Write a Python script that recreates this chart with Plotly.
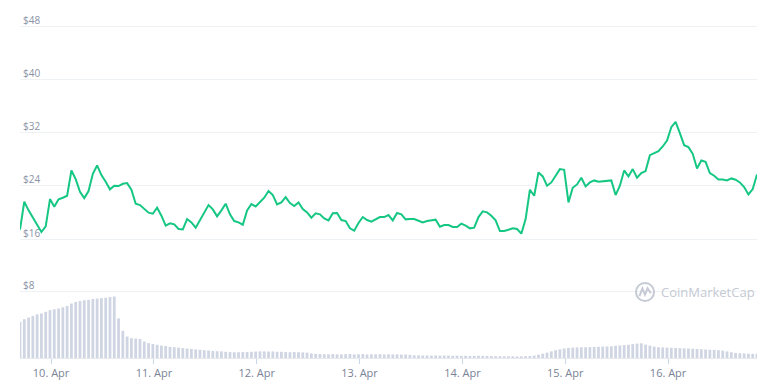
import pandas as pd
import plotly.graph_objects as go

# ---- data (hourly) ----
start_time = "2021-04-09 16:45"
price = [
    17.4, 21.6, 20.3, 19.2, 18.3, 17.05, 17.9, 22.0, 20.85, 21.96,
    22.2, 22.5, 26.3, 25.0, 23.1, 22.15, 23.2, 25.8, 27.05, 25.6,
    24.6, 23.46, 24.0, 23.96, 24.3, 24.4, 23.4, 21.3, 21.1, 20.5,
    19.96, 19.8, 20.7, 19.5, 18.0, 18.36, 18.2, 17.5, 17.45, 19.0,
    18.5, 17.7, 18.85, 20.0, 21.1, 20.45, 19.4, 20.3, 21.3, 19.7,
    18.7, 18.5, 18.15, 20.3, 21.25, 20.9, 21.5, 22.2, 23.2, 22.6,
    21.2, 21.5, 22.3, 21.4, 20.96, 21.5, 20.5, 20.0, 19.2, 19.86,
    19.7, 19.1, 18.8, 19.86, 19.9, 18.85, 18.7, 17.6, 17.25, 18.4,
    19.3, 18.85, 18.6, 18.9, 19.3, 19.3, 19.6, 18.8, 19.9, 19.7,
    18.95, 19.0, 19.0, 18.75, 18.5, 18.7, 18.8, 18.9, 17.85, 18.1,
    18.1, 17.8, 17.8, 18.3, 18.0, 17.6, 17.7, 19.3, 20.15, 20.0,
    19.5, 18.8, 17.2, 17.2, 17.4, 17.6, 17.5, 16.8, 19.0, 23.4,
    22.5, 26.0, 25.4, 24.0, 24.5, 25.5, 26.5, 26.4, 21.5, 23.7,
    24.2, 25.2, 23.9, 24.5, 24.8, 24.6, 24.7, 24.8, 24.8, 22.6,
    24.0, 26.3, 25.4, 26.5, 25.2, 25.9, 26.2, 28.6, 28.9, 29.2,
    29.9, 30.8, 32.8, 33.6, 31.9, 30.1, 29.8, 28.8, 26.6, 27.8,
    27.6, 25.9, 25.5, 24.95, 24.95, 24.8, 25.1, 24.9, 24.5, 23.8,
    22.7, 23.5, 25.7,
]
volume = [
    4.4, 4.7, 4.9, 5.1, 5.3, 5.4, 5.6, 5.8, 5.9, 6.0,
    6.15, 6.3, 6.6, 6.8, 6.9, 7.0, 7.05, 7.15, 7.2, 7.25,
    7.3, 7.4, 7.45, 4.8, 3.3, 2.6, 2.4, 2.35, 2.3, 2.0,
    1.8, 1.7, 1.6, 1.5, 1.45, 1.35, 1.3, 1.25, 1.2, 1.15,
    1.1, 1.05, 1.0, 0.95, 0.9, 0.85, 0.82, 0.8, 0.75, 0.72,
    0.7, 0.7, 0.72, 0.72, 0.75, 0.78, 0.8, 0.8, 0.78, 0.8,
    0.75, 0.75, 0.72, 0.7, 0.72, 0.7, 0.68, 0.65, 0.55, 0.5,
    0.48, 0.46, 0.44, 0.47, 0.45, 0.43, 0.46, 0.48, 0.44, 0.45,
    0.47, 0.43, 0.45, 0.44, 0.46, 0.42, 0.45, 0.43, 0.44, 0.41,
    0.42, 0.38, 0.33, 0.32, 0.3, 0.31, 0.29, 0.3, 0.28, 0.3,
    0.29, 0.27, 0.28, 0.26, 0.27, 0.25, 0.26, 0.27, 0.25, 0.24,
    0.23, 0.22, 0.22, 0.21, 0.2, 0.2, 0.19, 0.2, 0.22, 0.25,
    0.3, 0.4, 0.52, 0.65, 0.8, 0.95, 1.05, 1.15, 1.22, 1.26,
    1.28, 1.3, 1.3, 1.32, 1.34, 1.36, 1.38, 1.4, 1.42, 1.48,
    1.52, 1.56, 1.6, 1.68, 1.74, 1.78, 1.62, 1.5, 1.38, 1.3,
    1.28, 1.26, 1.24, 1.22, 1.2, 1.17, 1.15, 1.12, 1.1, 1.06,
    1.03, 1.0, 0.98, 0.95, 0.9, 0.8, 0.7, 0.62, 0.58, 0.55,
    0.52, 0.5, 0.5,
]
price_ticks = [16, 24, 32, 40, 48]
price_ticklabels = ["$16", "$24", "$32", "$40", "$48"]
volume_ticks = [8]
volume_ticklabels = ["$8"]
date_ticks = ["2021-04-10", "2021-04-11", "2021-04-12", "2021-04-13",
              "2021-04-14", "2021-04-15", "2021-04-16"]
date_ticklabels = ["10. Apr", "11. Apr", "12. Apr", "13. Apr",
                   "14. Apr", "15. Apr", "16. Apr"]

n = min(len(price), len(volume))
times = pd.date_range(start_time, periods=n, freq="h")

fig = go.Figure()
fig.add_trace(go.Scatter(
    x=times, y=price[:n], mode="lines",
    line=dict(color="#16c784", width=2),
    xaxis="x", yaxis="y", hoverinfo="skip", showlegend=False,
))
fig.add_trace(go.Bar(
    x=times, y=volume[:n],
    marker=dict(color="#cfd5e2", line=dict(width=0)),
    xaxis="x2", yaxis="y2", hoverinfo="skip", showlegend=False,
))

grid = "#eff2f5"
label_font = dict(family="Open Sans", size=10, color="#8a92a6")
xr = [times[0], times[-1]]

# page body adds an 8px margin, so the figure is 760x376 and offset by it
fig.update_layout(
    width=760, height=376,
    margin=dict(l=12, r=11, t=2, b=26),
    paper_bgcolor="white", plot_bgcolor="white",
    bargap=0.35,
    xaxis=dict(domain=[0, 1], anchor="y", range=xr, showgrid=False,
               showticklabels=False, zeroline=False, showline=False, ticks=""),
    xaxis2=dict(domain=[0, 1], anchor="y2", range=xr, matches="x",
                showgrid=False, zeroline=False,
                showline=True, linecolor="#e6e9ee", linewidth=1,
                tickvals=date_ticks, ticktext=date_ticklabels,
                ticks="outside", ticklen=5, tickcolor="#ccd6eb",
                tickfont=dict(family="Open Sans", size=11, color="#7a8397")),
    yaxis=dict(domain=[0.2816, 1.0], range=[12.845, 50.404],
               tickvals=price_ticks, ticktext=price_ticklabels,
               showgrid=True, gridcolor=grid, gridwidth=1, zeroline=False,
               ticklabelposition="inside", ticklabelshift=-6, ticks="",
               tickfont=label_font, layer="below traces"),
    yaxis2=dict(domain=[0.0, 0.2529], range=[0, 10.667],
                tickvals=volume_ticks, ticktext=volume_ticklabels,
                showgrid=True, gridcolor=grid, gridwidth=1, zeroline=False,
                ticklabelposition="inside", ticklabelshift=-6, ticks="",
                tickfont=label_font),
)

# CoinMarketCap watermark
wm = "#c5cad4"
fig.add_shape(type="circle", xref="paper", yref="paper",
              x0=0.8358, x1=0.8603, y0=0.1638, y1=0.2155,
              line=dict(color=wm, width=2))
fig.add_shape(type="path", xref="paper", yref="paper",
              path="M 0.8405 0.178 L 0.8445 0.200 L 0.8480 0.182 L 0.8515 0.200 L 0.8560 0.186",
              line=dict(color=wm, width=2))
fig.add_annotation(text="CoinMarketCap", xref="paper", yref="paper",
                   x=0.867, y=0.1897, xanchor="left", yanchor="middle",
                   showarrow=False,
                   font=dict(family="Open Sans", size=13, color=wm))

fig.write_html("out.html")
